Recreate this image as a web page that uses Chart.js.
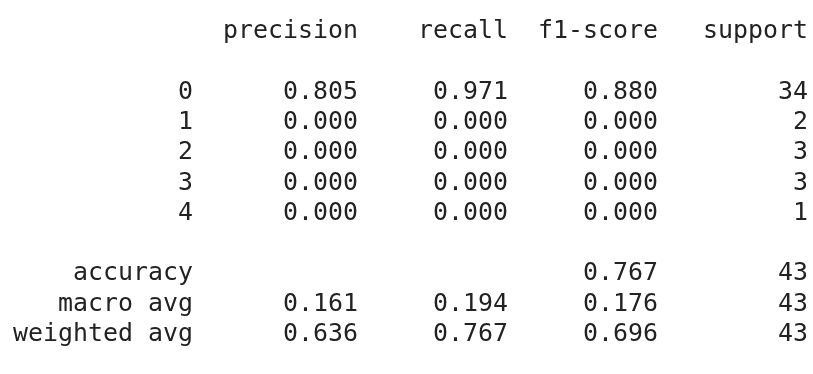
<!DOCTYPE html>
<html>
<head>
<meta charset="utf-8">
<title>classification report</title>
<script src="https://cdn.jsdelivr.net/npm/chart.js@4/dist/chart.umd.min.js"></script>
<style>
  html, body { margin: 0; padding: 0; background: #ffffff; }
  canvas { display: block; }
</style>
</head>
<body>
<canvas id="report" width="813" height="374"></canvas>
<script>
// Column headings of the report
const headers = ['precision', 'recall', 'f1-score', 'support'];

// Per-class rows
const classLabels = ['0', '1', '2', '3', '4'];
const precision = [0.805, 0.000, 0.000, 0.000, 0.000];
const recall    = [0.971, 0.000, 0.000, 0.000, 0.000];
const f1Score   = [0.880, 0.000, 0.000, 0.000, 0.000];
const support   = [34, 2, 3, 3, 1];

// Summary rows (accuracy has no precision / recall entry)
const avgLabels    = ['accuracy', 'macro avg', 'weighted avg'];
const avgPrecision = [null, 0.161, 0.636];
const avgRecall    = [null, 0.194, 0.767];
const avgF1        = [0.767, 0.176, 0.696];
const avgSupport   = [43, 43, 43];

// Fixed-width text layout: label column, then four 10-character columns
const labelWidth = Math.max(...classLabels.concat(avgLabels).map(s => s.length));
const colWidth = 10;
const colEnds = [labelWidth].concat(headers.map((_, k) => labelWidth + 1 + colWidth * (k + 1)));

const fmt = v => (v === null || v === undefined) ? null : v.toFixed(3);

// Each row: line number plus the five cell strings
const rows = [];
rows.push({ line: 0, cells: [null].concat(headers) });
classLabels.forEach((lab, i) => {
  rows.push({ line: 2 + i, cells: [lab, fmt(precision[i]), fmt(recall[i]), fmt(f1Score[i]), String(support[i])] });
});
avgLabels.forEach((lab, i) => {
  rows.push({ line: 3 + classLabels.length + i,
              cells: [lab, fmt(avgPrecision[i]), fmt(avgRecall[i]), fmt(avgF1[i]), String(avgSupport[i])] });
});

// One dataset per column; every cell is a point placed on the column / line scales
const datasets = colEnds.map((end, k) => {
  const pts = [], texts = [];
  rows.forEach(r => {
    if (r.cells[k] !== null) {
      pts.push({ x: end, y: r.line });
      texts.push(r.cells[k]);
    }
  });
  return { data: pts, cellText: texts, pointRadius: 0, pointHoverRadius: 0, showLine: false };
});

const charPx = 15;     // horizontal pitch of one character
const linePx = 30.3;   // vertical pitch of one text line
const left = 13, firstBaseline = 38;
const W = 813, H = 374;

const cellTextPlugin = {
  id: 'cellText',
  afterDatasetsDraw(chart) {
    const { ctx, scales: { x, y } } = chart;
    ctx.save();
    ctx.font = '24px "DejaVu Sans Mono", "Liberation Mono", monospace';
    ctx.fillStyle = '#222222';
    ctx.textAlign = 'right';
    ctx.textBaseline = 'alphabetic';
    const pitch = x.getPixelForValue(1) - x.getPixelForValue(0);
    const sx = pitch / ctx.measureText('0').width;
    chart.data.datasets.forEach((ds, di) => {
      const meta = chart.getDatasetMeta(di);
      meta.data.forEach((pt, j) => {
        ctx.save();
        ctx.translate(pt.x, pt.y);
        ctx.scale(sx, 1);
        ctx.fillText(ds.cellText[j], 0, 0);
        ctx.restore();
      });
    });
    ctx.restore();
  }
};

new Chart(document.getElementById('report'), {
  type: 'scatter',
  data: { datasets },
  options: {
    responsive: false,
    animation: false,
    events: [],
    layout: { padding: 0 },
    plugins: { legend: { display: false }, tooltip: { enabled: false } },
    scales: {
      x: { type: 'linear', display: false, min: -left / charPx, max: (W - left) / charPx },
      y: { type: 'linear', display: false, reverse: true,
           min: -firstBaseline / linePx, max: (H - firstBaseline) / linePx }
    }
  },
  plugins: [cellTextPlugin]
});
</script>
</body>
</html>
